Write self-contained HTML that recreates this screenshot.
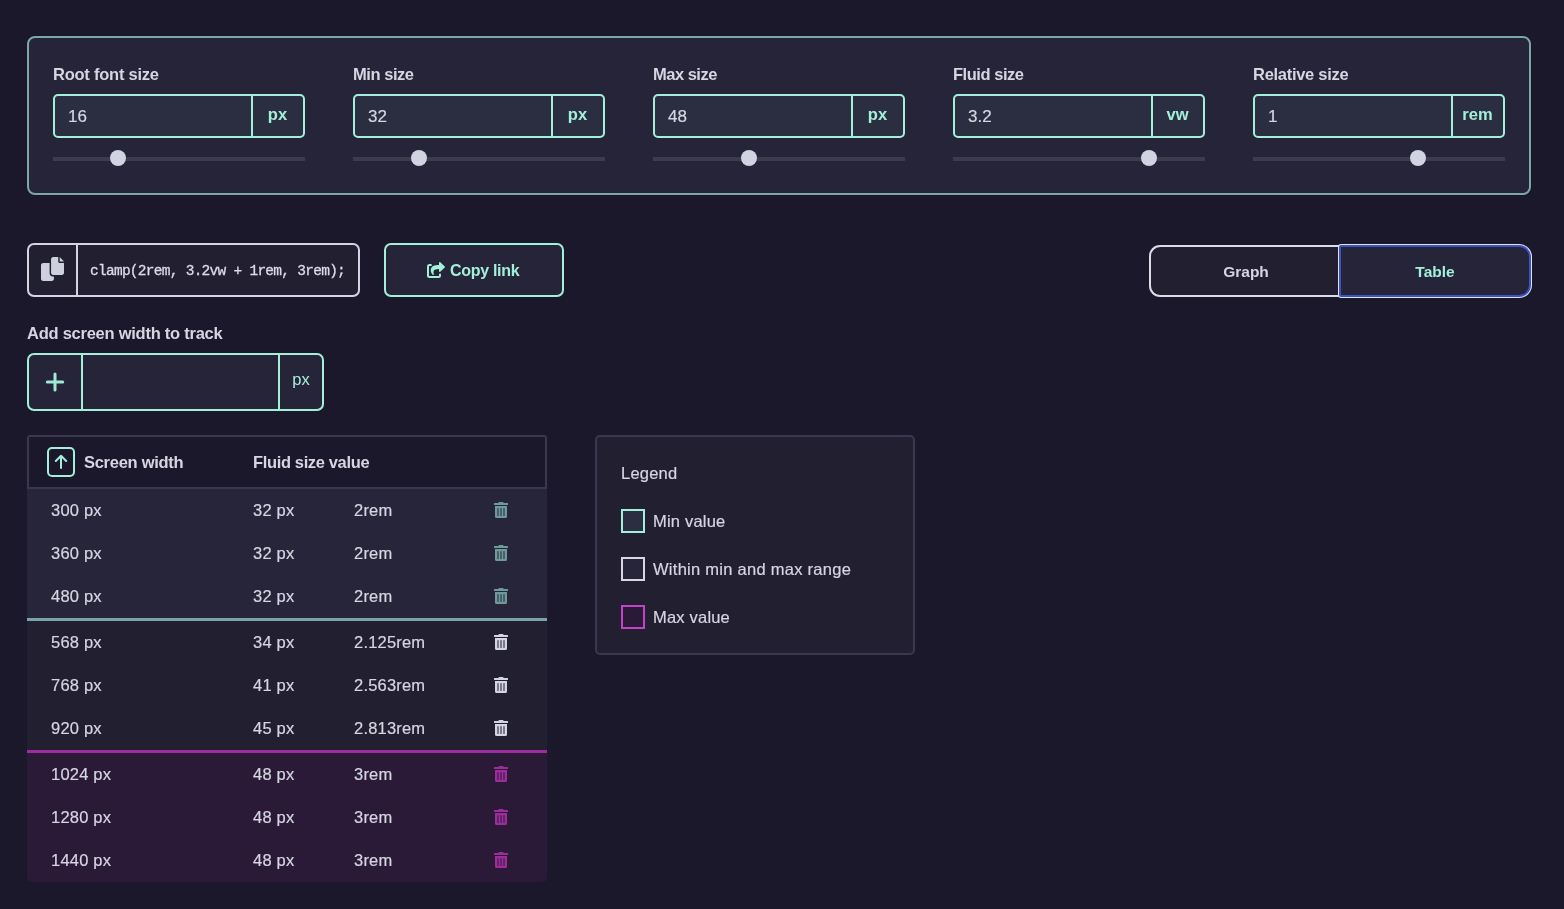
<!DOCTYPE html>
<html lang="en">
<head>
<meta charset="utf-8">
<title>Fluid size calculator</title>
<style>
*{box-sizing:border-box;margin:0;padding:0}
html,body{width:1564px;height:909px;overflow:hidden;background:#1c182b}
body{position:relative;font-family:"Liberation Sans",sans-serif;color:#d6d6e2;font-size:16px}
.abs{position:absolute}
.t{position:absolute;white-space:nowrap;line-height:20px;height:20px;will-change:transform}
.b{font-weight:bold}
.pri{color:#a4efd9}
/* top panel */
#panel{left:27px;top:36px;width:1504px;height:159px;border:2px solid #7ba7a9;border-radius:8px;background:#252438;box-shadow:0 0 0 1px #15112280}
.grp{position:absolute;top:94px;width:252px;height:44px;border:2px solid #a4efd9;border-radius:5px;background:#2b2e40}
.grp i{position:absolute;left:196px;top:0;width:2px;height:40px;background:#a4efd9}
.track{position:absolute;top:157px;width:252px;height:4px;background:#3d3b4e}
.thumb{position:absolute;top:150px;width:16px;height:16px;border-radius:50%;background:#d2d3e0}
.lab{font-size:16.5px}
.val{font-size:17px;margin-top:0.5px;margin-left:-0.5px;-webkit-text-stroke:0.2px #d6d6e2}
.unit{font-size:16.5px}
/* table */
.cell{font-size:16.5px;letter-spacing:0.2px;-webkit-text-stroke:0.2px #d6d6e2}
.row{position:absolute;left:27px;width:520px;height:43px}
</style>
</head>
<body>
<div id="panel" class="abs"></div>

<!-- SECTION: inputs -->
<div class="t b lab" id="lab0" style="left:53px;top:64px;letter-spacing:-0.24px">Root font size</div>
<div class="grp" style="left:53px"><i></i></div>
<div class="t val" id="val0" style="left:68px;top:106px">16</div>
<div class="t b pri unit" id="unit0" style="left:252px;top:104px;width:51px;text-align:center">px</div>
<div class="track" style="left:53px"></div><div class="thumb" style="left:110px"></div>
<div class="t b lab" id="lab1" style="left:353px;top:64px;letter-spacing:-0.45px">Min size</div>
<div class="grp" style="left:353px"><i></i></div>
<div class="t val" id="val1" style="left:368px;top:106px">32</div>
<div class="t b pri unit" id="unit1" style="left:552px;top:104px;width:51px;text-align:center">px</div>
<div class="track" style="left:353px"></div><div class="thumb" style="left:411px"></div>
<div class="t b lab" id="lab2" style="left:653px;top:64px;letter-spacing:-0.5px">Max size</div>
<div class="grp" style="left:653px"><i></i></div>
<div class="t val" id="val2" style="left:668px;top:106px">48</div>
<div class="t b pri unit" id="unit2" style="left:852px;top:104px;width:51px;text-align:center">px</div>
<div class="track" style="left:653px"></div><div class="thumb" style="left:741px"></div>
<div class="t b lab" id="lab3" style="left:953px;top:64px;letter-spacing:-0.47px">Fluid size</div>
<div class="grp" style="left:953px"><i></i></div>
<div class="t val" id="val3" style="left:968px;top:106px">3.2</div>
<div class="t b pri unit" id="unit3" style="left:1152px;top:104px;width:51px;text-align:center">vw</div>
<div class="track" style="left:953px"></div><div class="thumb" style="left:1141px"></div>
<div class="t b lab" id="lab4" style="left:1253px;top:64px;letter-spacing:-0.29px">Relative size</div>
<div class="grp" style="left:1253px"><i></i></div>
<div class="t val" id="val4" style="left:1268px;top:106px">1</div>
<div class="t b pri unit" id="unit4" style="left:1452px;top:104px;width:51px;text-align:center">rem</div>
<div class="track" style="left:1253px"></div><div class="thumb" style="left:1410px"></div>

<!-- SECTION: toolbar -->
<div class="abs" id="clampbox" style="left:27px;top:243px;width:333px;height:54px;border:2px solid #d4d5e2;border-radius:7px;background:#221f31"><i style="position:absolute;left:47px;top:0;width:2px;height:50px;background:#d4d5e2"></i></div>
<svg class="abs" id="copyico" style="left:40.7px;top:257px" width="23" height="24" preserveAspectRatio="none" viewBox="0 0 512 512"><path fill="#ced0de" d="M384 96L384 0h-112c-26.51 0-48 21.49-48 48v288c0 26.51 21.49 48 48 48H464c26.51 0 48-21.49 48-48V128h-95.1C398.4 128 384 113.6 384 96zM416 0v96h96L416 0zM192 352V128h-144c-26.51 0-48 21.49-48 48v288c0 26.51 21.49 48 48 48h192c26.51 0 48-21.49 48-48L288 416h-32C220.7 416 192 387.3 192 352z"/></svg>
<div class="t" id="code" style="left:90px;top:261px;-webkit-text-stroke:0.3px #dcdce8;font-family:'Liberation Mono',monospace;font-size:14.5px;letter-spacing:-0.73px;color:#dcdce8">clamp(2rem, 3.2vw + 1rem, 3rem);</div>
<div class="abs" id="copylink" style="left:384px;top:243px;width:180px;height:54px;border:2px solid #a4efd9;border-radius:7px;background:#252438"></div>
<svg class="abs" id="shareico" style="left:427px;top:262px" width="18" height="16" viewBox="0 0 576 512"><path fill="none" stroke="#a4efd9" stroke-width="64" stroke-linecap="round" d="M124 96H80a48 48 0 0 0-48 48V432a48 48 0 0 0 48 48H368a48 48 0 0 0 48-48V396"/><path fill="#a4efd9" d="M568.482 177.448L424.479 313.433C409.3 327.768 384 317.14 384 295.985v-71.963c-144.575.97-205.566 35.113-164.775 171.353 4.483 14.973-12.846 26.567-25.006 17.33C155.252 383.105 120 326.488 120 269.339c0-143.937 117.599-172.5 264-173.312V24.012c0-21.174 25.317-31.768 40.479-17.448l144.003 135.988c10.02 9.463 10.028 25.425 0 34.896z"/></svg>
<div class="t b pri" id="copytxt" style="left:450px;top:260.5px;font-size:16px;letter-spacing:-0.3px">Copy link</div>
<div class="abs" id="graphbtn" style="left:1149px;top:245px;width:192px;height:52px;border:2px solid #dcdce8;border-right:none;border-radius:11px 0 0 11px;background:#221f31"></div>
<div class="abs" id="tablebtn" style="left:1339px;top:245px;width:192px;height:52px;border:2px solid #3a52c8;border-radius:2px 12px 12px 2px;background:#252438;box-shadow:0 0 0 1px #e4e4ee"></div>
<div class="t b" id="graphtxt" style="left:1151px;width:190px;text-align:center;top:262px;font-size:15.5px">Graph</div>
<div class="t b pri" id="tabletxt" style="left:1339px;width:192px;text-align:center;top:262px;font-size:15.5px">Table</div>

<!-- SECTION: add -->
<div class="t b" id="addlab" style="left:27px;top:323px;font-size:16.5px;letter-spacing:-0.25px">Add screen width to track</div>
<div class="abs" id="addbox" style="left:27px;top:353px;width:297px;height:58px;border:2px solid #a4efd9;border-radius:7px;background:#252438"><i style="position:absolute;left:52px;top:0;width:2px;height:54px;background:#a4efd9"></i><i style="position:absolute;left:249px;top:0;width:2px;height:54px;background:#a4efd9"></i></div>
<svg class="abs" id="plusico" style="left:45px;top:371.5px" width="20" height="20" viewBox="0 0 20 20"><path d="M10 2v16M2.3 10h15.4" stroke="#a0e9d4" stroke-width="3" stroke-linecap="round" fill="none"/></svg>
<div class="t pri" id="addpx" style="left:280px;width:42px;text-align:center;top:368.5px;font-size:16.5px">px</div>

<!-- SECTION: table -->
<div class="abs" id="thead" style="left:27px;top:435px;width:520px;height:54px;border:2px solid #3a384c;border-radius:3px 3px 0 0;background:#1c182b"></div>
<div class="abs" id="sortbtn" style="left:47px;top:447px;width:28px;height:30px;border:2px solid #a4efd9;border-radius:5px"></div>
<svg class="abs" id="sortico" style="left:53px;top:453px" width="16" height="18" viewBox="0 0 16 18"><path d="M8 15V2.8M2.8 8L8 2.8L13.2 8" stroke="#a4efd9" stroke-width="2" stroke-linecap="round" stroke-linejoin="round" fill="none"/></svg>
<div class="t b" id="th1" style="left:84px;top:452px;font-size:16.5px;letter-spacing:-0.28px">Screen width</div>
<div class="t b" id="th2" style="left:252.5px;top:452px;font-size:16.5px;letter-spacing:-0.36px">Fluid size value</div>
<div class="abs" id="sec1" style="left:27px;top:489px;width:520px;height:129px;background:#262539"></div>
<div class="abs" style="left:27px;top:618px;width:520px;height:3px;background:#7aa4a7"></div>
<div class="abs" id="sec2" style="left:27px;top:621px;width:520px;height:129px;background:#221f31"></div>
<div class="abs" style="left:27px;top:750px;width:520px;height:3px;background:#9c2d9a"></div>
<div class="abs" id="sec3" style="left:27px;top:753px;width:520px;height:129px;background:#2a1a38;border-radius:0 0 5px 5px"></div>
<div class="t cell" id="r0a" style="left:51px;top:499.5px">300 px</div><div class="t cell" id="r0b" style="left:253px;top:499.5px">32 px</div><div class="t cell" id="r0c" style="left:353.5px;top:499.5px">2rem</div><svg class="abs" style="left:494px;top:502px" width="14" height="16" viewBox="0 0 448 512"><path fill="#6e9a9c" d="M32 464a48 48 0 0 0 48 48h288a48 48 0 0 0 48-48V128H32zm272-256a16 16 0 0 1 32 0v224a16 16 0 0 1-32 0zm-96 0a16 16 0 0 1 32 0v224a16 16 0 0 1-32 0zm-96 0a16 16 0 0 1 32 0v224a16 16 0 0 1-32 0zM432 32H312l-9.4-18.7A24 24 0 0 0 281.1 0H166.8a23.72 23.72 0 0 0-21.4 13.3L136 32H16A16 16 0 0 0 0 48v32a16 16 0 0 0 16 16h416a16 16 0 0 0 16-16V48a16 16 0 0 0-16-16z"/></svg>
<div class="t cell" id="r1a" style="left:51px;top:542.5px">360 px</div><div class="t cell" id="r1b" style="left:253px;top:542.5px">32 px</div><div class="t cell" id="r1c" style="left:353.5px;top:542.5px">2rem</div><svg class="abs" style="left:494px;top:545px" width="14" height="16" viewBox="0 0 448 512"><path fill="#6e9a9c" d="M32 464a48 48 0 0 0 48 48h288a48 48 0 0 0 48-48V128H32zm272-256a16 16 0 0 1 32 0v224a16 16 0 0 1-32 0zm-96 0a16 16 0 0 1 32 0v224a16 16 0 0 1-32 0zm-96 0a16 16 0 0 1 32 0v224a16 16 0 0 1-32 0zM432 32H312l-9.4-18.7A24 24 0 0 0 281.1 0H166.8a23.72 23.72 0 0 0-21.4 13.3L136 32H16A16 16 0 0 0 0 48v32a16 16 0 0 0 16 16h416a16 16 0 0 0 16-16V48a16 16 0 0 0-16-16z"/></svg>
<div class="t cell" id="r2a" style="left:51px;top:585.5px">480 px</div><div class="t cell" id="r2b" style="left:253px;top:585.5px">32 px</div><div class="t cell" id="r2c" style="left:353.5px;top:585.5px">2rem</div><svg class="abs" style="left:494px;top:588px" width="14" height="16" viewBox="0 0 448 512"><path fill="#6e9a9c" d="M32 464a48 48 0 0 0 48 48h288a48 48 0 0 0 48-48V128H32zm272-256a16 16 0 0 1 32 0v224a16 16 0 0 1-32 0zm-96 0a16 16 0 0 1 32 0v224a16 16 0 0 1-32 0zm-96 0a16 16 0 0 1 32 0v224a16 16 0 0 1-32 0zM432 32H312l-9.4-18.7A24 24 0 0 0 281.1 0H166.8a23.72 23.72 0 0 0-21.4 13.3L136 32H16A16 16 0 0 0 0 48v32a16 16 0 0 0 16 16h416a16 16 0 0 0 16-16V48a16 16 0 0 0-16-16z"/></svg>
<div class="t cell" id="r3a" style="left:51px;top:631.5px">568 px</div><div class="t cell" id="r3b" style="left:253px;top:631.5px">34 px</div><div class="t cell" id="r3c" style="left:353.5px;top:631.5px">2.125rem</div><svg class="abs" style="left:494px;top:634px" width="14" height="16" viewBox="0 0 448 512"><path fill="#d4d5e2" d="M32 464a48 48 0 0 0 48 48h288a48 48 0 0 0 48-48V128H32zm272-256a16 16 0 0 1 32 0v224a16 16 0 0 1-32 0zm-96 0a16 16 0 0 1 32 0v224a16 16 0 0 1-32 0zm-96 0a16 16 0 0 1 32 0v224a16 16 0 0 1-32 0zM432 32H312l-9.4-18.7A24 24 0 0 0 281.1 0H166.8a23.72 23.72 0 0 0-21.4 13.3L136 32H16A16 16 0 0 0 0 48v32a16 16 0 0 0 16 16h416a16 16 0 0 0 16-16V48a16 16 0 0 0-16-16z"/></svg>
<div class="t cell" id="r4a" style="left:51px;top:674.5px">768 px</div><div class="t cell" id="r4b" style="left:253px;top:674.5px">41 px</div><div class="t cell" id="r4c" style="left:353.5px;top:674.5px">2.563rem</div><svg class="abs" style="left:494px;top:677px" width="14" height="16" viewBox="0 0 448 512"><path fill="#d4d5e2" d="M32 464a48 48 0 0 0 48 48h288a48 48 0 0 0 48-48V128H32zm272-256a16 16 0 0 1 32 0v224a16 16 0 0 1-32 0zm-96 0a16 16 0 0 1 32 0v224a16 16 0 0 1-32 0zm-96 0a16 16 0 0 1 32 0v224a16 16 0 0 1-32 0zM432 32H312l-9.4-18.7A24 24 0 0 0 281.1 0H166.8a23.72 23.72 0 0 0-21.4 13.3L136 32H16A16 16 0 0 0 0 48v32a16 16 0 0 0 16 16h416a16 16 0 0 0 16-16V48a16 16 0 0 0-16-16z"/></svg>
<div class="t cell" id="r5a" style="left:51px;top:717.5px">920 px</div><div class="t cell" id="r5b" style="left:253px;top:717.5px">45 px</div><div class="t cell" id="r5c" style="left:353.5px;top:717.5px">2.813rem</div><svg class="abs" style="left:494px;top:720px" width="14" height="16" viewBox="0 0 448 512"><path fill="#d4d5e2" d="M32 464a48 48 0 0 0 48 48h288a48 48 0 0 0 48-48V128H32zm272-256a16 16 0 0 1 32 0v224a16 16 0 0 1-32 0zm-96 0a16 16 0 0 1 32 0v224a16 16 0 0 1-32 0zm-96 0a16 16 0 0 1 32 0v224a16 16 0 0 1-32 0zM432 32H312l-9.4-18.7A24 24 0 0 0 281.1 0H166.8a23.72 23.72 0 0 0-21.4 13.3L136 32H16A16 16 0 0 0 0 48v32a16 16 0 0 0 16 16h416a16 16 0 0 0 16-16V48a16 16 0 0 0-16-16z"/></svg>
<div class="t cell" id="r6a" style="left:51px;top:763.5px">1024 px</div><div class="t cell" id="r6b" style="left:253px;top:763.5px">48 px</div><div class="t cell" id="r6c" style="left:353.5px;top:763.5px">3rem</div><svg class="abs" style="left:494px;top:766px" width="14" height="16" viewBox="0 0 448 512"><path fill="#9c2d9a" d="M32 464a48 48 0 0 0 48 48h288a48 48 0 0 0 48-48V128H32zm272-256a16 16 0 0 1 32 0v224a16 16 0 0 1-32 0zm-96 0a16 16 0 0 1 32 0v224a16 16 0 0 1-32 0zm-96 0a16 16 0 0 1 32 0v224a16 16 0 0 1-32 0zM432 32H312l-9.4-18.7A24 24 0 0 0 281.1 0H166.8a23.72 23.72 0 0 0-21.4 13.3L136 32H16A16 16 0 0 0 0 48v32a16 16 0 0 0 16 16h416a16 16 0 0 0 16-16V48a16 16 0 0 0-16-16z"/></svg>
<div class="t cell" id="r7a" style="left:51px;top:806.5px">1280 px</div><div class="t cell" id="r7b" style="left:253px;top:806.5px">48 px</div><div class="t cell" id="r7c" style="left:353.5px;top:806.5px">3rem</div><svg class="abs" style="left:494px;top:809px" width="14" height="16" viewBox="0 0 448 512"><path fill="#9c2d9a" d="M32 464a48 48 0 0 0 48 48h288a48 48 0 0 0 48-48V128H32zm272-256a16 16 0 0 1 32 0v224a16 16 0 0 1-32 0zm-96 0a16 16 0 0 1 32 0v224a16 16 0 0 1-32 0zm-96 0a16 16 0 0 1 32 0v224a16 16 0 0 1-32 0zM432 32H312l-9.4-18.7A24 24 0 0 0 281.1 0H166.8a23.72 23.72 0 0 0-21.4 13.3L136 32H16A16 16 0 0 0 0 48v32a16 16 0 0 0 16 16h416a16 16 0 0 0 16-16V48a16 16 0 0 0-16-16z"/></svg>
<div class="t cell" id="r8a" style="left:51px;top:849.5px">1440 px</div><div class="t cell" id="r8b" style="left:253px;top:849.5px">48 px</div><div class="t cell" id="r8c" style="left:353.5px;top:849.5px">3rem</div><svg class="abs" style="left:494px;top:852px" width="14" height="16" viewBox="0 0 448 512"><path fill="#9c2d9a" d="M32 464a48 48 0 0 0 48 48h288a48 48 0 0 0 48-48V128H32zm272-256a16 16 0 0 1 32 0v224a16 16 0 0 1-32 0zm-96 0a16 16 0 0 1 32 0v224a16 16 0 0 1-32 0zm-96 0a16 16 0 0 1 32 0v224a16 16 0 0 1-32 0zM432 32H312l-9.4-18.7A24 24 0 0 0 281.1 0H166.8a23.72 23.72 0 0 0-21.4 13.3L136 32H16A16 16 0 0 0 0 48v32a16 16 0 0 0 16 16h416a16 16 0 0 0 16-16V48a16 16 0 0 0-16-16z"/></svg>

<!-- SECTION: legend -->
<div class="abs" id="legend" style="left:595px;top:435px;width:320px;height:220px;border:2px solid #3a384c;border-radius:5px;background:#221f31"></div>
<div class="t cell" id="lg0" style="left:621px;top:463px">Legend</div>
<div class="abs" style="left:621px;top:509px;width:24px;height:24px;border:2px solid #a4efd9;background:#2b2e40"></div>
<div class="abs" style="left:621px;top:557px;width:24px;height:24px;border:2px solid #d8d8e4;background:#262539"></div>
<div class="abs" style="left:621px;top:605px;width:24px;height:24px;border:2px solid #c043c9;background:#2a1a38"></div>
<div class="t cell" id="lg1" style="left:653px;top:511px">Min value</div>
<div class="t cell" id="lg2" style="left:653px;top:559px;letter-spacing:0.27px">Within min and max range</div>
<div class="t cell" id="lg3" style="left:653px;top:607px">Max value</div>

</body>
</html>
